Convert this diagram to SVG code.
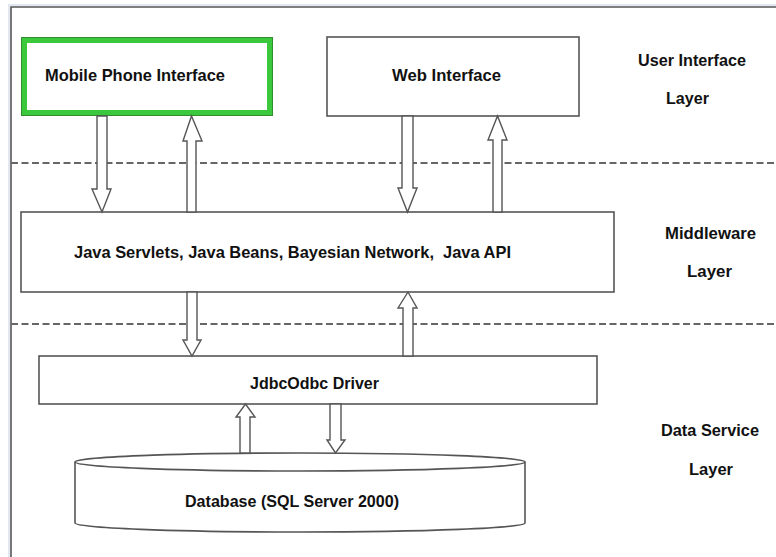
<svg xmlns="http://www.w3.org/2000/svg" width="776" height="557" viewBox="0 0 776 557">
<style>
.t{font-family:"Liberation Sans",Arial,sans-serif;font-weight:bold;font-size:17px;fill:#111;white-space:pre}
.box{fill:#fff;stroke:#555;stroke-width:1.6}
.arr{fill:#fff;stroke:#555;stroke-width:1.4;stroke-linejoin:miter}
.dash{stroke:#666;stroke-width:2;stroke-dasharray:7 3.5;fill:none}
.frame{stroke:#555;stroke-width:1.6;fill:none}
</style>
<rect width="776" height="557" fill="#fff"/>
<path d="M9 557 V5 H776" stroke="#e2e8ef" stroke-width="2" fill="none"/>
<path class="frame" d="M11 557 V7 H776"/>
<line class="dash" x1="11" y1="163" x2="776" y2="163"/>
<line class="dash" x1="11" y1="324" x2="776" y2="324"/>

<g id="mobile">
<rect x="21.5" y="37.5" width="251" height="78" fill="#fff" stroke="#2f8f2f" stroke-width="1"/>
<rect x="24.5" y="40.5" width="245" height="72" fill="#fff" stroke="#3cc83c" stroke-width="5"/>
<text class="t" x="45" y="81" textLength="180" lengthAdjust="spacingAndGlyphs">Mobile Phone Interface</text>
</g>
<g id="web">
<rect class="box" x="327" y="37" width="252" height="79"/>
<text class="t" x="392" y="81" textLength="109" lengthAdjust="spacingAndGlyphs">Web Interface</text>
</g>
<g id="middleware">
<rect class="box" x="21" y="212" width="593" height="80"/>
<text class="t" x="74" y="258" textLength="437" lengthAdjust="spacingAndGlyphs" xml:space="preserve">Java Servlets, Java Beans, Bayesian Network,  Java API</text>
</g>
<g id="jdbc">
<rect class="box" x="39" y="356" width="558" height="48"/>
<text class="t" x="250" y="389" textLength="129" lengthAdjust="spacingAndGlyphs">JdbcOdbc Driver</text>
</g>
<g id="database">
<path class="box" d="M75 462 V523 A225 9 0 0 0 525 523 V462"/>
<ellipse class="box" cx="300" cy="462" rx="225" ry="9"/>
<text class="t" x="185" y="507" textLength="214" lengthAdjust="spacingAndGlyphs">Database (SQL Server 2000)</text>
</g>
<g id="labels">
<text class="t" x="638" y="66" textLength="108" lengthAdjust="spacingAndGlyphs">User Interface</text>
<text class="t" x="666" y="104" textLength="43" lengthAdjust="spacingAndGlyphs">Layer</text>
<text class="t" x="665" y="239" textLength="91" lengthAdjust="spacingAndGlyphs">Middleware</text>
<text class="t" x="687" y="277" textLength="45" lengthAdjust="spacingAndGlyphs">Layer</text>
<text class="t" x="661" y="436" textLength="98" lengthAdjust="spacingAndGlyphs">Data Service</text>
<text class="t" x="689" y="475" textLength="44" lengthAdjust="spacingAndGlyphs">Layer</text>
</g>
<g id="connectors">
<polygon class="arr" points="97,116 107,116 107,189 111,189 102,212 92,189 97,189"/>
<polygon class="arr" points="187,212 196,212 196,141 202,141 191.5,116 183,141 187,141"/>
<polygon class="arr" points="402,116 413,116 413,188 417,188 407.5,212 398,188 402,188"/>
<polygon class="arr" points="493,212 502,212 502,140 507,140 497.5,116 488,140 493,140"/>
<polygon class="arr" points="187,292 197,292 197,340 201,340 192,356 183,340 187,340"/>
<polygon class="arr" points="403,356 413,356 413,308 417,308 408,292 398,308 403,308"/>
<polygon class="arr" points="240,453 250,453 250,417 255,417 245.5,404 236,417 240,417"/>
<polygon class="arr" points="330,404 341,404 341,440 345,440 335.5,453 327,440 330,440"/>
</g>
</svg>
